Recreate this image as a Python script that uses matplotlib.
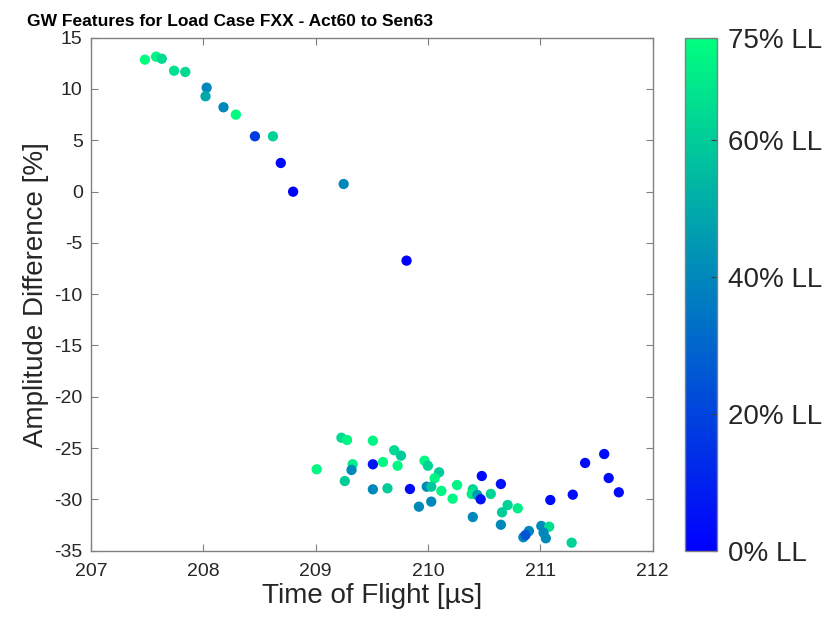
import matplotlib
matplotlib.use('Agg')
import matplotlib.pyplot as plt
import numpy as np

plt.rcParams['font.family'] = ['Liberation Sans', 'DejaVu Sans']
plt.rcParams['axes.unicode_minus'] = False

# time of flight [us], amplitude difference [%], load level [% LL]
tof = [207.48, 207.58, 207.63, 207.74, 207.84, 208.03, 208.02, 208.18, 208.29,
       208.46, 208.62, 208.69, 208.80, 209.25, 209.81,
       209.23, 209.28, 209.51, 209.01, 209.33, 209.32, 209.26, 209.51, 209.60,
       209.70, 209.76, 209.73, 209.51, 209.64, 209.84, 209.97, 210.00, 210.10,
       210.06, 209.99, 210.03, 210.12, 209.92, 210.03, 210.26, 210.22, 210.40,
       210.39, 210.44, 210.48, 210.47, 210.40, 210.56, 210.65, 210.71, 210.66,
       210.80, 210.65, 210.90, 210.85, 210.87, 211.01, 211.08, 211.03, 211.05,
       211.09, 211.29, 211.40, 211.57, 211.61, 211.70, 211.28]
amp = [12.86, 13.15, 12.95, 11.78, 11.66, 10.13, 9.29, 8.22, 7.50,
       5.39, 5.39, 2.79, -0.01, 0.74, -6.73,
       -23.99, -24.21, -24.28, -27.07, -26.58, -27.13, -28.21, -26.58, -26.36,
       -25.21, -25.74, -26.72, -29.02, -28.92, -28.99, -26.23, -26.72, -27.36,
       -27.94, -28.76, -28.76, -29.18, -30.71, -30.22, -28.60, -29.93, -29.02,
       -29.47, -29.57, -27.72, -29.99, -31.72, -29.47, -28.50, -30.55, -31.26,
       -30.87, -32.47, -33.08, -33.69, -33.47, -32.59, -32.66, -33.25, -33.79,
       -30.06, -29.54, -26.45, -25.58, -27.92, -29.31, -34.22]
load = [75, 72, 64, 66, 64, 40, 50, 40, 74,
        18, 62, 3, 0, 40, 0,
        64, 72, 72, 73, 70, 40, 60, 5, 73,
        64, 60, 73, 40, 60, 3, 73, 62, 60,
        72, 40, 58, 72, 40, 40, 72, 73, 62,
        70, 45, 3, 5, 40, 62, 5, 62, 60,
        70, 40, 40, 40, 25, 40, 65, 40, 40,
        3, 3, 3, 3, 3, 3, 62]

cbar_ticks = [0, 20, 40, 60, 75]
cbar_labels = ['0% LL', '20% LL', '40% LL', '60% LL', '75% LL']

fig = plt.figure(figsize=(8.27, 6.2), dpi=100)
ax = fig.add_axes([0.110, 0.1118, 0.679, 0.8274])

sc = ax.scatter(tof, amp, c=load, cmap='winter', vmin=0, vmax=75, s=55,
                edgecolors='none')

ax.set_xlim(207, 212)
ax.set_ylim(-35, 15)
ax.set_xticks(np.arange(207, 213, 1))
ax.set_yticks(np.arange(-35, 20, 5))
ax.tick_params(direction='in', top=True, right=True, length=5, width=0.8,
               color='#808080', labelsize=14, labelcolor='#262626', pad=6)
ax.tick_params(axis='x', pad=9)
for s in ax.spines.values():
    s.set_color('#808080')
    s.set_linewidth(1.0)

ax.set_xlabel('Time of Flight [µs]', fontsize=20, color='#262626', labelpad=2)
ax.set_ylabel('Amplitude Difference [%]', fontsize=20, color='#262626', labelpad=4)

fig.text(0.2787, 0.958, 'GW Features for Load Case FXX - Act60 to Sen63',
         fontweight='bold', fontsize=12.5, ha='center', va='baseline',
         color='black')

cax = fig.add_axes([0.8283, 0.1118, 0.0387, 0.8274])
cb = fig.colorbar(sc, cax=cax, ticks=cbar_ticks)
cb.ax.set_yticklabels(cbar_labels)
cb.ax.tick_params(direction='in', length=4, width=0.8, color='#404040',
                  labelsize=20, labelcolor='#262626', pad=8)
cb.outline.set_edgecolor('#808080')
cb.outline.set_linewidth(1.0)

fig.savefig('out.png', dpi=100, facecolor='white')
